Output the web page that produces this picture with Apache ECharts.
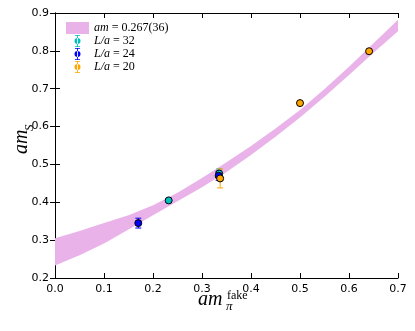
<!DOCTYPE html>
<html>
<head>
<meta charset="utf-8">
<script src="https://cdn.jsdelivr.net/npm/echarts@6/dist/echarts.min.js"></script>
<style>
  html, body { margin: 0; padding: 0; background: #fff; }
  #chart { width: 415px; height: 331px; }
</style>
</head>
<body>
<div id="chart"></div>
<script>
// fit band
var bandX  = [0.00, 0.05, 0.10, 0.15, 0.20, 0.25, 0.30, 0.35, 0.40, 0.45, 0.50, 0.55, 0.60, 0.65, 0.70];
var bandLo = [0.233, 0.260, 0.291, 0.328, 0.366, 0.403, 0.440, 0.480, 0.525, 0.573, 0.624, 0.679, 0.736, 0.795, 0.852];
var bandHi = [0.305, 0.324, 0.345, 0.366, 0.392, 0.425, 0.464, 0.506, 0.549, 0.595, 0.644, 0.699, 0.758, 0.820, 0.882];

// data points [x, y, err]
var L32 = [[0.232, 0.405, 0.005], [0.335, 0.476, 0.012]];
var L24 = [[0.170, 0.345, 0.013], [0.334, 0.470, 0.012]];
var L20 = [[0.337, 0.463, 0.025], [0.500, 0.662, 0.006], [0.641, 0.799, 0.005]];

var xTicks = [0, 0.7, 0.1];
var yTicks = [0.2, 0.9, 0.1];

var bandName = 'am = 0.267(36)';
var names = ['L/a = 32', 'L/a = 24', 'L/a = 20'];
var colors = ['#00bfbf', '#0000ff', '#ffa500'];
var pink = '#e9b3e9';

var chart = echarts.init(document.getElementById('chart'));

var errIcon = 'path://M2,0H8V1H2Z M4.5,0H5.5V14H4.5Z M2,13H8V14H2Z M1.5,7A3.5,3.5 0 1,0 8.5,7A3.5,3.5 0 1,0 1.5,7Z';

function errSeries(name, data, color) {
  return {
    type: 'custom',
    name: name,
    data: data,
    encode: { x: 0, y: 1 },
    z: 3,
    silent: true,
    itemStyle: { color: color },
    renderItem: function (params, api) {
      var x = api.value(0), y = api.value(1), e = api.value(2);
      var top = api.coord([x, y + e]);
      var bot = api.coord([x, y - e]);
      var st = { stroke: color, lineWidth: 1 };
      return {
        type: 'group',
        children: [
          { type: 'line', shape: { x1: top[0], y1: top[1], x2: bot[0], y2: bot[1] }, style: st },
          { type: 'line', shape: { x1: top[0] - 3, y1: top[1], x2: top[0] + 3, y2: top[1] }, style: st },
          { type: 'line', shape: { x1: bot[0] - 3, y1: bot[1], x2: bot[0] + 3, y2: bot[1] }, style: st }
        ]
      };
    }
  };
}

function dotSeries(name, data, color) {
  return {
    type: 'scatter',
    name: name,
    data: data.map(function (d) { return [d[0], d[1]]; }),
    symbolSize: 7,
    z: 4,
    itemStyle: { color: color, borderColor: '#000', borderWidth: 1, opacity: 1 }
  };
}

var series = [{
  type: 'custom',
  name: bandName,
  data: [[0, 0.5]],
  z: 1,
  silent: true,
  itemStyle: { color: pink },
  renderItem: function (params, api) {
    var pts = [];
    for (var i = 0; i < bandX.length; i++) pts.push(api.coord([bandX[i], bandHi[i]]));
    for (var j = bandX.length - 1; j >= 0; j--) pts.push(api.coord([bandX[j], bandLo[j]]));
    return { type: 'polygon', shape: { points: pts }, style: { fill: pink } };
  }
}];
var groups = [L32, L24, L20];
for (var k = 0; k < 3; k++) {
  series.push(errSeries(names[k], groups[k], colors[k]));
  series.push(dotSeries(names[k], groups[k], colors[k]));
}

var tickLabel = { color: '#000', fontFamily: 'DejaVu Sans', fontSize: 11, margin: 6,
  formatter: function (v) { return v.toFixed(1); } };
var line = { show: true, lineStyle: { color: '#000', width: 1 } };
var tick = { show: true, inside: true, length: 5, lineStyle: { color: '#000' } };

chart.setOption({
  animation: false,
  grid: { left: 55, right: 17, top: 13, bottom: 53 },
  legend: {
    orient: 'vertical',
    left: 61,
    top: 17,
    itemGap: 1,
    itemWidth: 23,
    itemHeight: 12,
    selectedMode: false,
    data: [
      { name: bandName, icon: 'rect', itemStyle: { color: pink, borderWidth: 0 } },
      { name: names[0], icon: errIcon, itemStyle: { color: colors[0], borderWidth: 0 } },
      { name: names[1], icon: errIcon, itemStyle: { color: colors[1], borderWidth: 0 } },
      { name: names[2], icon: errIcon, itemStyle: { color: colors[2], borderWidth: 0 } }
    ],
    formatter: function (n) {
      if (n === bandName) return '{i|am} = 0.267(36)';
      return '{i|L/a} = ' + n.split('= ')[1];
    },
    textStyle: {
      color: '#000', fontFamily: 'Liberation Serif', fontSize: 12,
      rich: { i: { fontFamily: 'Liberation Serif', fontStyle: 'italic', fontSize: 12, color: '#000' } }
    }
  },
  xAxis: [{
    type: 'value', min: xTicks[0], max: xTicks[1], interval: xTicks[2],
    axisLine: line, axisTick: tick, splitLine: { show: false }, axisLabel: tickLabel
  }, {
    type: 'value', position: 'top', min: xTicks[0], max: xTicks[1], interval: xTicks[2],
    axisLine: line, axisTick: tick, splitLine: { show: false }, axisLabel: { show: false }
  }],
  yAxis: [{
    type: 'value', min: yTicks[0], max: yTicks[1], interval: yTicks[2],
    axisLine: line, axisTick: tick, splitLine: { show: false }, axisLabel: tickLabel
  }, {
    type: 'value', position: 'right', min: yTicks[0], max: yTicks[1], interval: yTicks[2],
    axisLine: line, axisTick: tick, splitLine: { show: false }, axisLabel: { show: false }
  }],
  graphic: [
    { type: 'text', left: 198, top: 290, style: { text: 'am', font: 'italic 20px "Liberation Serif"', fill: '#000' } },
    { type: 'text', left: 226, top: 300, style: { text: 'π', font: 'italic 13px "Liberation Serif"', fill: '#000' } },
    { type: 'text', left: 227, top: 290, style: { text: 'fake', font: '12px "Liberation Serif"', fill: '#000' } },
    {
      type: 'group', x: 12, y: 154, rotation: Math.PI / 2,
      children: [
        { type: 'text', x: 0, y: 0, style: { text: 'am', font: 'italic 20px "Liberation Serif"', fill: '#000' } },
        { type: 'text', x: 23, y: 11, style: { text: 'S', font: 'italic 13px "Liberation Serif"', fill: '#000' } }
      ]
    }
  ],
  series: series
});
</script>
</body>
</html>
